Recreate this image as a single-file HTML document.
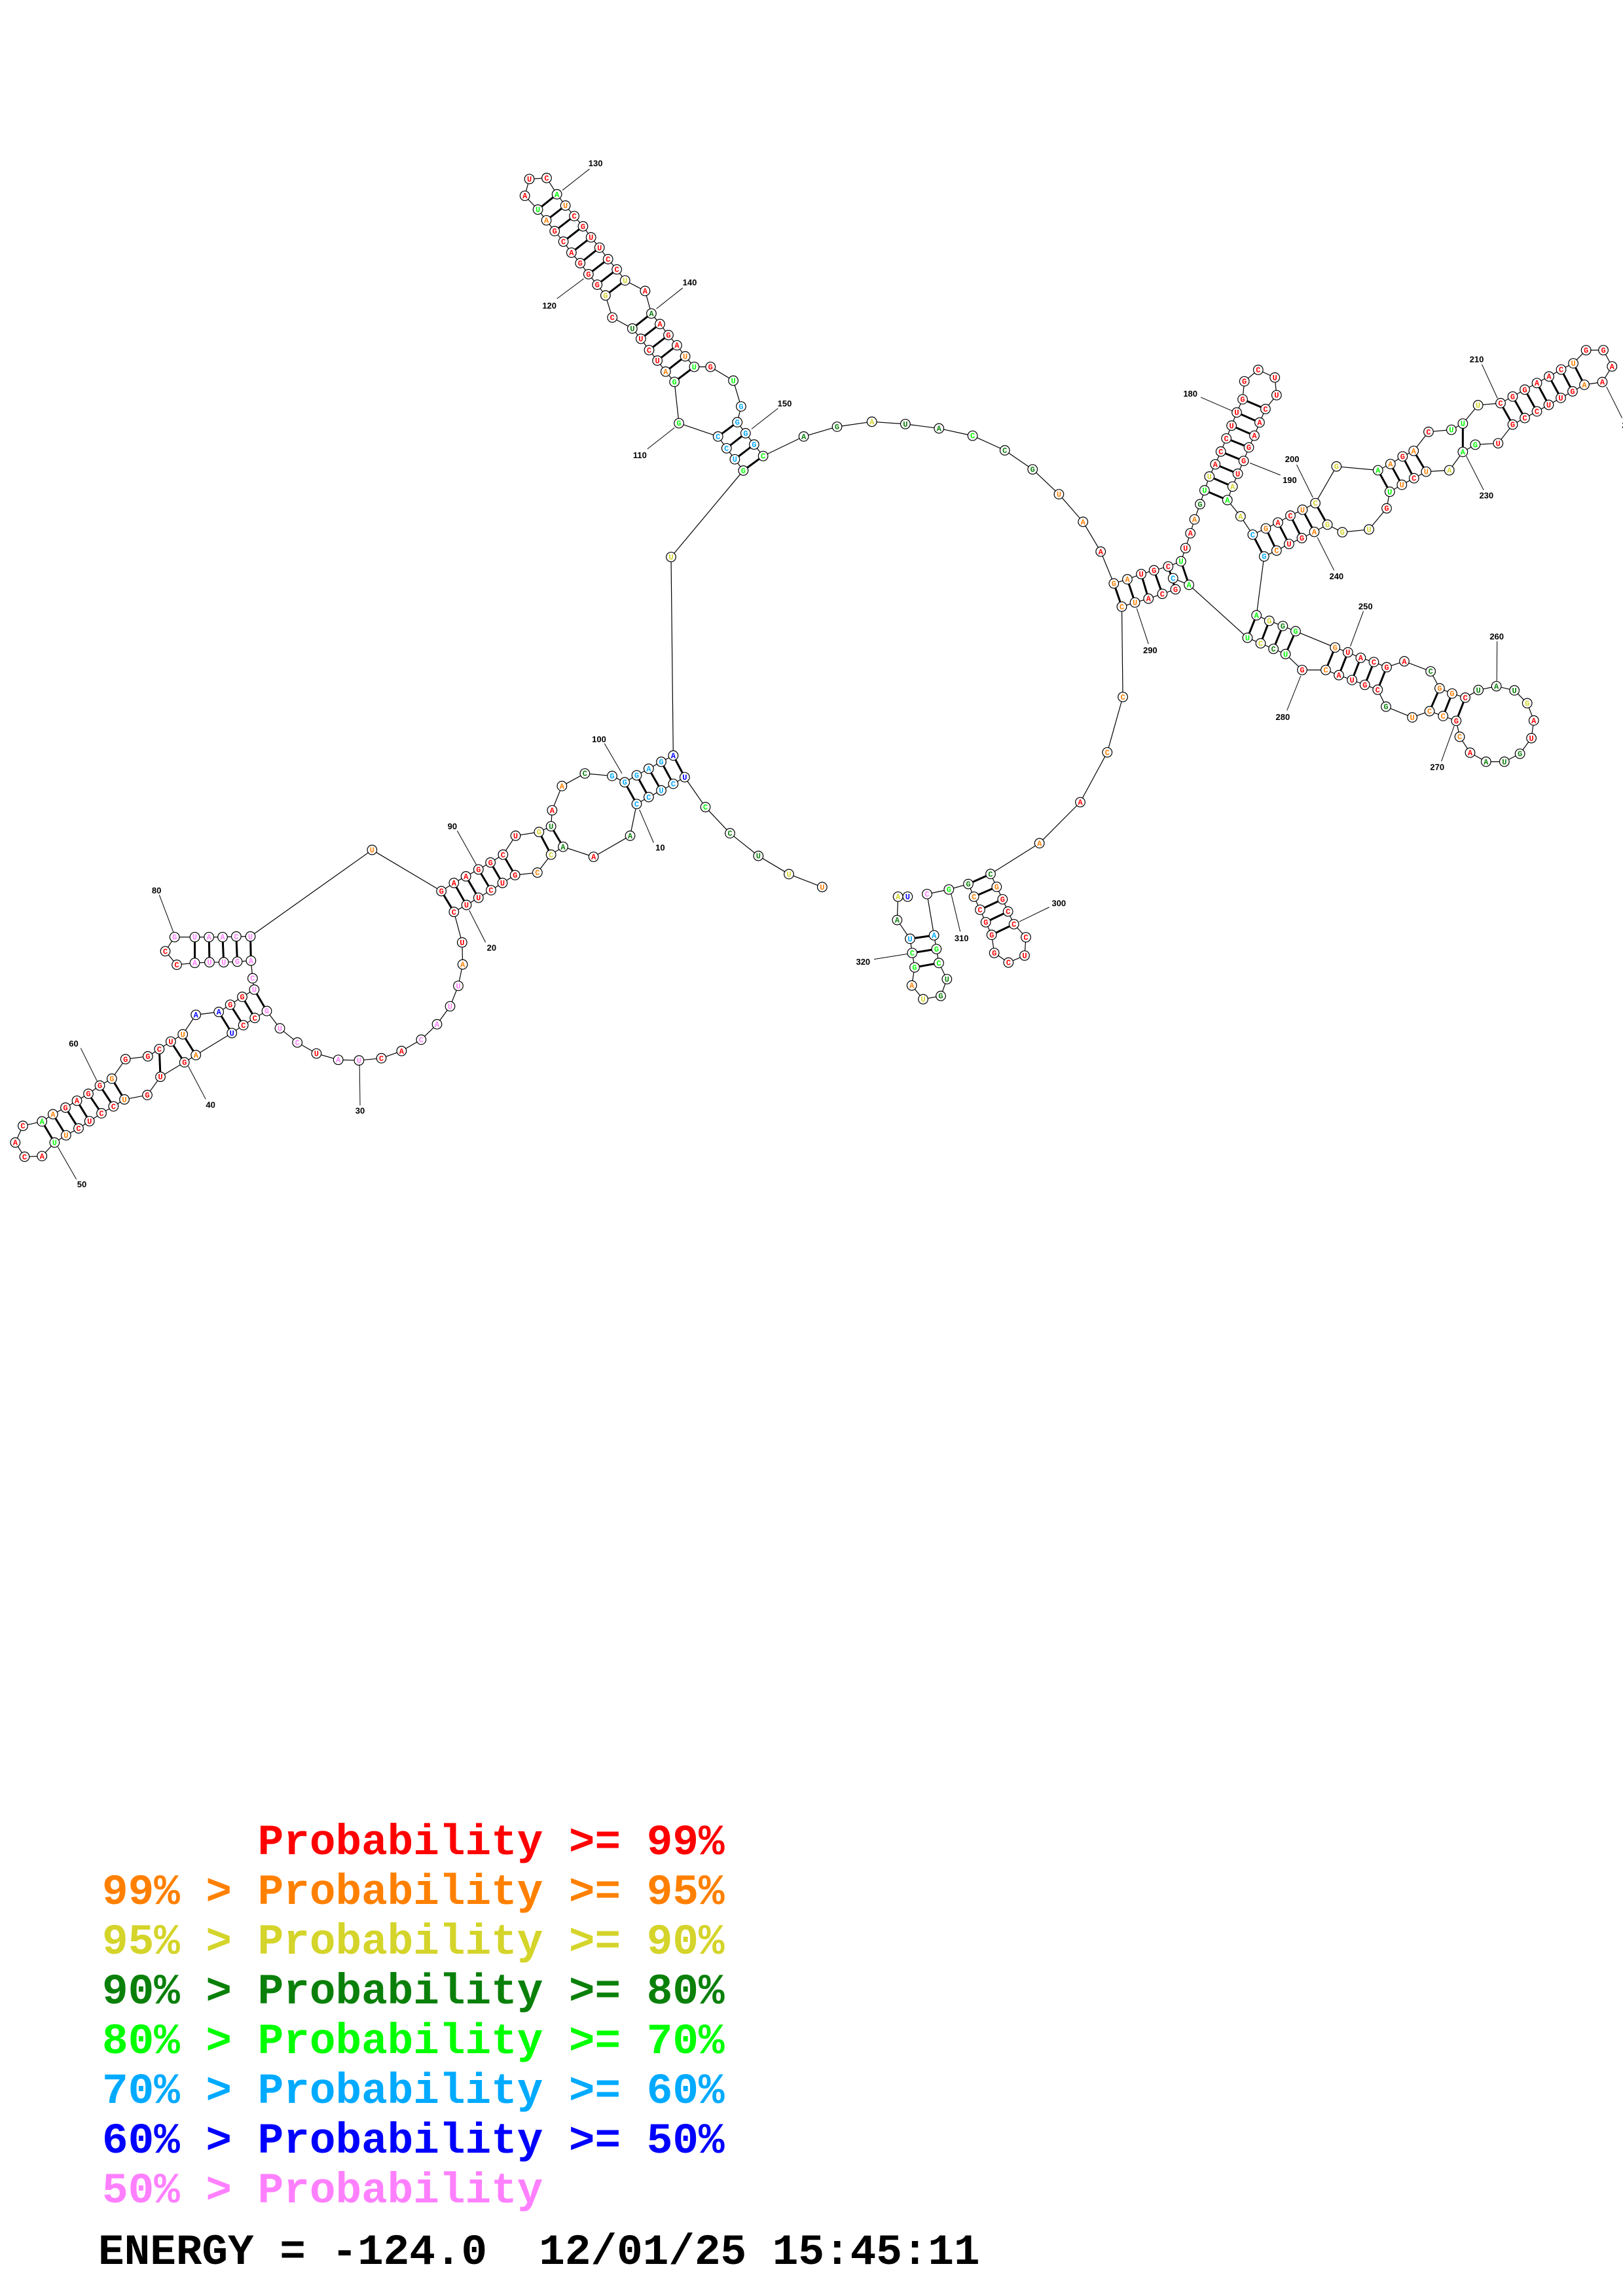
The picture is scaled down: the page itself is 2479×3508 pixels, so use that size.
<!DOCTYPE html>
<html><head><meta charset="utf-8"><style>
html,body{margin:0;padding:0;background:#fff}
svg{display:block}
.leg{font-family:"Liberation Mono",monospace;font-weight:bold;font-size:66px;white-space:pre}
</style></head><body>
<svg id="s" xmlns="http://www.w3.org/2000/svg" width="2479" height="3508" viewBox="0 0 2479 3508">
<rect width="2479" height="3508" fill="#fff"/>
<g id="lines"></g><g id="nodes"></g><g id="labs"></g>
<text class="leg" x="156" y="2833" fill="#ff0000" xml:space="preserve">      Probability &gt;= 99%</text>
<text class="leg" x="156" y="2909" fill="#ff8000" xml:space="preserve">99% &gt; Probability &gt;= 95%</text>
<text class="leg" x="156" y="2985" fill="#d4d42a" xml:space="preserve">95% &gt; Probability &gt;= 90%</text>
<text class="leg" x="156" y="3061" fill="#0a800a" xml:space="preserve">90% &gt; Probability &gt;= 80%</text>
<text class="leg" x="156" y="3137" fill="#00ff00" xml:space="preserve">80% &gt; Probability &gt;= 70%</text>
<text class="leg" x="156" y="3213" fill="#00aaff" xml:space="preserve">70% &gt; Probability &gt;= 60%</text>
<text class="leg" x="156" y="3289" fill="#0000ff" xml:space="preserve">60% &gt; Probability &gt;= 50%</text>
<text class="leg" x="156" y="3365" fill="#ff80ff" xml:space="preserve">50% &gt; Probability</text>
<text class="leg" x="150" y="3459" fill="#000" xml:space="preserve">ENERGY = -124.0  12/01/25 15:45:11</text>
</svg>
<script>
var C={r:"#ff0000",o:"#ff8000",y:"#d4d42a",d:"#0a800a",g:"#00ff00",c:"#00aaff",b:"#0000ff",p:"#ff80ff"};
function T2(x,y){return [x/1.2,1100+y/2.08];}
function T3(x,y){return [750+x/2.613,200+y/2.613];}
function T4(x,y){return [1650+x/1.891,480+y/1.891];}
function T5(x,y){return [1250+x/3,1250+y/3];}
function TD(x,y){return [x*2.234,y*2.234];}
var N=[];
function add(T,s){s.trim().split(/\s+/).forEach(function(t){var m=t.split(",");var p=T(+m[1],+m[2]);N.push([p[0],p[1],m[0][0],m[0][1]]);});}
add(T2,"Uo,1507,531 Uy,1446,490 Ud,1390,432 Cd,1338,360 Cg,1293,277 Ub,1255,182 Cc,1234,203 Uc,1212,224 Cc,1189,245 Cc,1167,267 Ad,1155,368 Ar,1088,435 Ad,1032,403 Cy,1010,428 Co,985,485 Gr,944,493 Ur,921,518 Cr,900,541 Ur,877,565 Ur,855,588 Cr,832,610 Ur,847,707 Ao,848,777 Up,840,845 Up,825,910 Ap,801,967 Cp,772,1016 Ar,736,1052 Cr,699,1075 Up,658,1082 Ap,620,1080 Ur,580,1060 Cp,545,1025 Up,513,980 Gp,489,925 Cr,467,947 Cr,446,970 Ub,425,995 Ao,359,1065 Gr,338,1088 Ur,294,1134 Gr,270,1192 Uo,228,1206 Cr,208,1228 Cr,186,1250 Ur,164,1275 Cr,144,1298 Uo,121,1320 Ug,100,1343 Ar,77,1386 Cr,45,1388 Ar,28,1343 Cr,42,1290 Ag,77,1276 Ao,97,1253 Gr,120,1232 Ar,141,1210 Gr,162,1188 Gr,183,1162 Go,205,1140 Gr,230,1078 Gr,271,1069 Cr,292,1046 Ur,313,1022 Uo,335,999 Ab,359,937 Ab,401,928 Gr,422,905 Gr,444,880 Up,466,857 Cp,463,821 Ap,460,765 Gp,435,768 Up,410,770 Up,384,770 Ap,357,772 Cr,324,778 Cr,303,735 Gp,320,690 Up,357,690 Ap,383,690 Ap,408,690 Cp,433,688 Up,459,688 Uo,682,413 Gr,809,544 Ar,832,518 Ar,854,497 Gr,877,475 Gr,899,453 Cr,922,428 Ur,945,368 Gy,988,356 Ud,1010,338 Ar,1012,287 Ao,1030,210 Cd,1072,170 Gc,1122,178 Gc,1145,198 Gc,1167,176 Ac,1189,155 Gc,1212,133 Ab,1234,113");
N.push([1025,851,"U","y"]);
add(T3,"Gg,1007,1356 Uc,973,1311 Cc,940,1267 Cc,906,1220 Gg,750,1167 Gg,732,1002 Ao,697,961 Ur,664,917 Cr,631,875 Ur,598,830 Ud,564,789 Cr,484,745 Gy,457,657 Gr,424,614 Gr,389,572 Gr,356,528 Ar,321,486 Cr,289,442 Gr,254,400 Ao,221,357 Ug,187,314 Ar,135,259 Ur,153,192 Cr,222,188 Ag,263,253 Uo,297,298 Cr,332,340 Gr,367,381 Ur,399,425 Ur,433,466 Cr,467,512 Cr,502,553 Uy,535,597 Ar,615,639 Ad,640,729 Ar,674,771 Gr,708,815 Ar,742,856 Uo,775,900 Ug,811,942 Gr,876,942 Ug,967,997 Gc,998,1100 Gc,983,1163 Gc,1016,1207 Gc,1050,1252 Cg,1086,1298 Ad,1248,1220 Gd,1381,1181 Ay,1520,1161");
add(TD,"Ud,619,290 Ad,642,293 Cg,665,298 Cd,687,308 Gd,706,321 Uo,724,338");
add(T4,"Ao,8,600 Ar,59,686 Go,97,778 Ao,136,766 Ur,176,751 Gr,213,740 Cr,254,729 Ug,291,714 Ur,304,676 Ar,318,633 Ao,330,593 Gd,346,549 Ug,359,509 Uy,373,469 Ar,390,434 Cr,406,397 Cr,422,359 Ur,437,322 Ur,452,284 Gr,469,246 Gr,474,194 Cr,514,161 Ur,562,183 Ur,567,234 Cr,535,274 Ar,518,313 Ar,503,351 Gr,487,385 Gr,472,424 Ur,455,461 Ay,440,498 Ag,425,537 Ay,463,584 Cc,498,637 Go,536,619 Ar,571,602 Cr,607,582 Uo,642,565 Cy,679,546 Gy,740,440 Ag,860,451 Ao,896,433 Gr,931,411 Ao,963,395 Cr,1006,340 Ug,1072,334 Ug,1105,316 Uy,1149,263 Cr,1214,257 Gr,1249,238 Gr,1284,218 Ar,1319,199 Ar,1354,180 Cr,1389,160 Uo,1424,142 Gr,1461,104 Gr,1511,104 Ar,1536,151 Ar,1508,196 Ao,1456,204 Gr,1422,223 Ur,1388,242 Ur,1353,262 Cr,1319,281 Cr,1284,300 Gr,1249,319 Ur,1207,373 Gg,1141,377 Ag,1105,398 Ay,1066,451 Uo,999,455 Cr,964,474 Uo,929,493 Ug,894,513 Gr,885,561 Uy,834,622 Gy,757,630 Gy,714,608 Ao,676,629 Gr,640,647 Ur,603,664 Co,567,683 Gc,531,700 Ag,509,870 Gy,546,886 Gd,585,901 Gg,622,916 Go,736,963 Ur,773,977 Ar,810,993 Cr,848,1005 Gr,885,1020 Ar,936,1003 Cd,1012,1032 Go,1038,1081 Go,1074,1096 Cr,1112,1108 Ud,1150,1086 Ad,1202,1075 Ud,1254,1087 Gy,1291,1124 Ar,1310,1174 Ur,1303,1225 Gd,1270,1270 Ud,1225,1293 Ad,1172,1293 Ar,1126,1267 Co,1096,1221 Gr,1086,1175 Co,1048,1161 Co,1009,1147 Uo,959,1165 Gd,883,1134 Cr,859,1085 Gr,822,1071 Ur,785,1057 Ar,747,1043 Co,709,1028 Gr,641,1028 Ug,593,982 Cd,558,967 Cy,521,951 Ug,483,935 Ag,314,782 Cc,268,763 Gr,275,795 Cr,237,808 Ar,197,822 Uo,158,833 Co,120,845 Co,123,1106 Co,78,1266 Ar,0,1410");
add(T5,"Ao,1013,115 Cd,789,256 Go,817,315 Gr,844,372 Cr,869,428 Cr,896,486 Cr,951,546 Ur,945,630 Cr,871,662 Gr,806,618 Gr,794,535 Gr,767,477 Cr,741,420 Co,713,360 Gd,687,302 Gg,598,327 Cp,498,348 Ac,530,537 Gg,541,600 Cg,552,664 Ud,589,738 Gd,561,815 Uy,480,830 Ao,428,767 Gg,441,684 Cg,430,618 Uc,420,553 Ad,361,467 Ay,365,360 Ub,409,360");
var P=[[5,102],[6,101],[7,100],[8,99],[9,98],[12,93],[13,92],[15,90],[16,89],[17,88],[18,87],[19,86],[20,85],[34,69],[35,68],[36,67],[37,66],[38,64],[39,63],[40,62],[42,59],[43,58],[44,57],[45,56],[46,55],[47,54],[48,53],[71,83],[72,82],[73,81],[74,80],[75,79],
[104,150],[105,149],[106,148],[107,147],[109,143],[110,142],[111,141],[112,140],[113,139],[114,138],[116,136],[117,135],[118,134],[119,133],[120,132],[121,131],[122,130],[123,129],[124,128],
[162,289],[163,288],[164,287],[165,286],[166,285],[167,283],[172,191],[173,190],[174,189],[175,188],[176,187],[177,186],[178,185],[179,184],[193,242],[194,241],[195,240],[196,239],[197,238],[198,237],[200,233],[201,232],[202,231],[203,230],[206,228],[208,225],[209,224],[210,223],[211,222],[212,221],[213,220],[214,219],[243,282],[244,281],[245,280],[246,279],[247,277],[248,276],[249,275],[250,274],[251,273],[254,270],[255,269],[256,268],
[294,307],[295,306],[296,305],[297,304],[298,303],[310,319],[311,318],[312,317]];
var NS="http://www.w3.org/2000/svg";
function el(t,a,p){var e=document.createElementNS(NS,t);for(var k in a)e.setAttribute(k,a[k]);p.appendChild(e);return e;}
var L=document.getElementById("lines"),G=document.getElementById("nodes"),B=document.getElementById("labs");
for(var i=0;i<N.length-1;i++){el("line",{x1:N[i][0],y1:N[i][1],x2:N[i+1][0],y2:N[i+1][1],stroke:"#000","stroke-width":1.2},L);}
P.forEach(function(p){var a=N[p[0]],b=N[p[1]];if(a&&b)el("line",{x1:a[0],y1:a[1],x2:b[0],y2:b[1],stroke:"#000","stroke-width":3},L);});
N.forEach(function(n){el("circle",{cx:n[0],cy:n[1],r:7.3,fill:"#fff",stroke:"#000","stroke-width":1.2},G);
var t=el("text",{x:n[0],y:n[1]+4,"text-anchor":"middle","font-family":"Liberation Mono, monospace","font-weight":"bold","font-size":12,fill:C[n[3]]},G);t.textContent=n[2];});
function lab(T,s,tx,ty,x1,y1,x2,y2){var a=T(x1,y1),b=T(x2,y2),c=T(tx,ty);el("line",{x1:a[0],y1:a[1],x2:b[0],y2:b[1],stroke:"#000","stroke-width":1},B);
var t=el("text",{x:c[0],y:c[1]+5,"text-anchor":"middle","font-family":"Liberation Sans, sans-serif","font-weight":"bold","font-size":13,fill:"#000"},B);t.textContent=s;}
lab(T2,"100",1098,60,1108,75,1140,170);lab(T2,"90",829,337,838,352,873,460);lab(T2,"80",287,541,292,556,318,675);
lab(T2,"10",1210,405,1198,390,1172,285);lab(T2,"20",901,723,890,707,860,605);lab(T2,"60",135,1028,148,1043,178,1148);
lab(T2,"40",386,1222,377,1205,345,1100);lab(T2,"30",660,1241,660,1225,659,1095);lab(T2,"50",150,1475,140,1460,106,1357);
lab(T3,"130",417,128,393,152,285,237);lab(T3,"120",233,697,263,670,370,590);lab(T3,"140",793,604,765,627,660,710);
lab(T3,"150",1172,1087,1145,1108,1040,1190);lab(T3,"110",594,1294,624,1270,732,1185);
lab(T4,"180",318,229,348,240,440,280);lab(T4,"190",605,478,578,465,490,430);lab(T4,"200",612,418,625,435,672,530);
lab(T4,"210",1145,130,1160,145,1205,243);lab(T4,"230",1173,523,1165,508,1115,410);lab(T4,"240",740,756,733,740,685,645);
lab(T4,"250",824,843,818,858,780,960);lab(T4,"260",1203,930,1204,945,1203,1060);lab(T4,"270",1031,1308,1043,1292,1080,1190);
lab(T4,"280",585,1163,597,1145,637,1045);lab(T4,"290",202,970,197,953,163,850);lab(T4,"220",1585,320,1565,300,1520,210);
lab(T5,"300",1102,388,1058,408,920,475);lab(T5,"310",656,549,650,520,608,345);lab(T5,"320",205,657,255,647,410,622);
</script>
</body></html>
